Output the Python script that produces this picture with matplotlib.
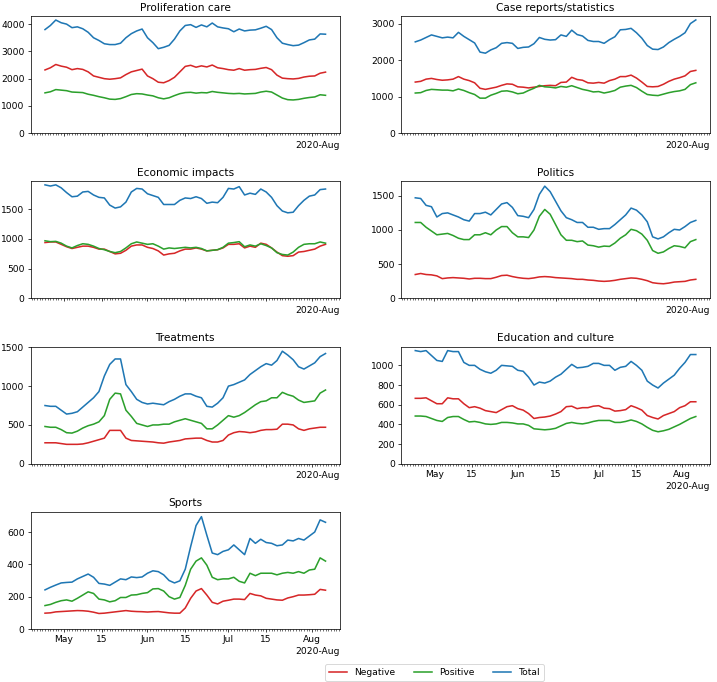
import matplotlib
matplotlib.use("Agg")
import matplotlib.pyplot as plt
import matplotlib.dates as mdates
import pandas as pd

# every second day, 2020-04-24 .. 2020-08-06
dates = pd.date_range("2020-04-24", "2020-08-06", freq="2D")

titles = ["Proliferation care", "Case reports/statistics", "Economic impacts",
          "Politics", "Treatments", "Education and culture", "Sports"]

prolif_neg = [2320, 2400, 2520, 2460, 2420, 2330, 2370, 2340, 2250, 2100, 2050, 2000, 1980, 2000,
              2030, 2150, 2250, 2300, 2350, 2100, 2000, 1870, 1850, 1930, 2050, 2250, 2450, 2490,
              2420, 2470, 2430, 2500, 2400, 2370, 2330, 2310, 2370, 2310, 2330, 2340, 2380, 2410,
              2330, 2130, 2020, 2000, 1990, 2010, 2060, 2090, 2100, 2200, 2240]
prolif_pos = [1480, 1520, 1600, 1580, 1560, 1510, 1500, 1490, 1430, 1390, 1340, 1300, 1250, 1240,
              1270, 1340, 1420, 1450, 1440, 1400, 1370, 1300, 1260, 1300, 1380, 1450, 1490, 1500,
              1470, 1490, 1480, 1530, 1500, 1480, 1460, 1450, 1460, 1440, 1450, 1460, 1510, 1540,
              1510, 1400, 1290, 1230, 1220, 1240, 1280, 1310, 1330, 1410, 1390]
prolif_tot = [3800, 3950, 4150, 4050, 4000, 3870, 3900, 3830, 3700, 3500, 3400, 3280, 3250, 3250,
              3300, 3500, 3650, 3750, 3820, 3500, 3320, 3100, 3150, 3220, 3450, 3750, 3950, 3980,
              3880, 3970, 3900, 4040, 3900, 3860, 3830, 3720, 3820, 3750, 3780, 3790, 3850, 3920,
              3800, 3500, 3300, 3250, 3210, 3230, 3320, 3420, 3450, 3640, 3630]

cases_neg = [1400, 1420, 1480, 1500, 1470, 1450, 1460, 1480, 1550, 1480, 1440, 1380, 1230, 1200,
             1230, 1260, 1310, 1350, 1340, 1270, 1260, 1240, 1260, 1280, 1300, 1310, 1300, 1390,
             1400, 1530, 1470, 1450, 1380, 1370, 1390, 1370, 1440, 1480, 1550, 1550, 1590, 1510,
             1400, 1280, 1270, 1280, 1340, 1420, 1480, 1520, 1570, 1690, 1720]
cases_pos = [1100, 1110, 1170, 1200, 1190, 1180, 1180, 1160, 1210, 1170, 1110, 1060, 960, 960,
             1040, 1090, 1150, 1160, 1130, 1080, 1100, 1170, 1230, 1310, 1270, 1260, 1240, 1280,
             1260, 1300, 1250, 1200, 1170, 1130, 1140, 1100, 1130, 1170, 1260, 1290, 1310, 1250,
             1150, 1060, 1040, 1030, 1070, 1110, 1140, 1160, 1200, 1330, 1380]
cases_tot = [2500, 2550, 2620, 2690, 2650, 2610, 2630, 2610, 2760, 2650, 2560, 2470, 2220, 2190,
             2280, 2340, 2460, 2480, 2460, 2320, 2350, 2360, 2450, 2620, 2570, 2550, 2560, 2690,
             2650, 2820, 2700, 2660, 2540, 2510, 2510, 2460, 2560, 2640, 2830, 2840, 2870, 2750,
             2600, 2400, 2300, 2290, 2360, 2480, 2570, 2650, 2750, 3000, 3100]

econ_neg = [940, 950, 950, 910, 870, 840, 860, 880, 880, 860, 830, 830, 790, 750, 760, 810, 880,
            900, 900, 860, 840, 800, 730, 750, 760, 800, 830, 830, 850, 830, 800, 810, 820, 850,
            910, 910, 920, 850, 880, 860, 930, 910, 850, 780, 720, 710, 720, 780, 790, 810, 830,
            880, 910]
econ_pos = [970, 955, 960, 930, 880, 850, 890, 920, 910, 880, 840, 820, 790, 770, 790, 850, 920,
            950, 930, 910, 920, 880, 830, 850, 840, 850, 860, 850, 860, 840, 800, 810, 820, 860,
            930, 940, 955, 870, 900, 880, 920, 890, 850, 770, 740, 730, 780, 860, 910, 920, 920,
            950, 930]
econ_tot = [1910, 1890, 1910, 1860, 1780, 1710, 1720, 1790, 1800, 1740, 1700, 1690, 1570, 1520,
            1540, 1620, 1790, 1850, 1840, 1760, 1730, 1700, 1580, 1580, 1580, 1650, 1690, 1680,
            1710, 1680, 1600, 1620, 1610, 1700, 1850, 1840, 1880, 1740, 1770, 1750, 1840, 1790,
            1700, 1560, 1470, 1440, 1450, 1560, 1650, 1720, 1740, 1830, 1840]

pol_neg = [350, 365, 350, 345, 330, 290, 300, 305, 300, 295, 285, 295, 295, 290, 290, 310, 335,
           340, 320, 305, 295, 290, 300, 315, 320, 315, 305, 300, 295, 290, 280, 280, 270, 265,
           255, 250, 255, 265, 280, 290, 300, 295, 280, 260, 230, 220, 215, 225, 240, 245, 250,
           270, 280]
pol_pos = [1110, 1110, 1040, 985, 930, 940, 950, 920, 880, 860, 860, 930, 930, 960, 930, 1000,
           1050, 1050, 960, 900, 900, 890, 1000, 1200, 1300, 1230, 1080, 930, 850, 850, 830, 840,
           780, 770, 750, 765, 760, 810, 880, 930, 1010, 990, 940, 850, 700, 660, 680, 730, 770,
           760, 740, 830, 860]
pol_tot = [1470, 1460, 1360, 1340, 1190, 1240, 1250, 1220, 1190, 1150, 1130, 1240, 1240, 1260,
           1220, 1300, 1380, 1400, 1330, 1210, 1200, 1180, 1300, 1520, 1640, 1560, 1420, 1280,
           1180, 1150, 1110, 1110, 1040, 1040, 1010, 1020, 1020, 1080, 1150, 1220, 1320, 1290,
           1220, 1120, 900, 870, 900, 960, 1010, 1000, 1050, 1110, 1140]

treat_neg = [270, 270, 270, 260, 250, 250, 250, 255, 270, 290, 310, 330, 430, 430, 430, 330, 300,
             295, 290, 285, 280, 270, 265, 280, 290, 300, 320, 325, 330, 330, 300, 280, 280, 300,
             370, 400, 415, 410, 400, 410, 430, 440, 440, 445, 510, 510, 500, 450, 430, 450, 460,
             470, 470]
treat_pos = [480, 470, 470, 440, 400, 395, 420, 460, 490, 510, 540, 620, 830, 910, 900, 690, 610,
             520, 500, 480, 500, 500, 510, 510, 540, 560, 580, 560, 540, 520, 450, 450, 500, 560,
             620, 600, 620, 660, 710, 760, 800, 810, 850, 850, 920, 890, 870, 820, 790, 800, 810,
             910, 950]
treat_tot = [750, 740, 740, 690, 640, 650, 670, 730, 790, 850, 930, 1130, 1280, 1350, 1350, 1020,
             930, 830, 790, 770, 780, 770, 760, 800, 830, 870, 900, 900, 870, 850, 740, 730, 780,
             850, 1000, 1020, 1050, 1080, 1150, 1200, 1250, 1290, 1270, 1330, 1450, 1400, 1340,
             1250, 1220, 1260, 1300, 1380, 1420]

edu_neg = [665, 665, 670, 640, 610, 610, 670, 660, 660, 610, 570, 580, 565, 540, 530, 520, 550,
           580, 590, 560, 545, 510, 460, 470, 475, 485, 505, 530, 580, 585, 560, 570, 570, 585,
           590, 565, 560, 535, 540, 550, 590, 570, 545, 490, 470, 455, 490, 510, 530, 570, 590,
           630, 630]
edu_pos = [485, 485, 480, 460, 440, 430, 470, 480, 480, 450, 425, 430, 420, 405, 400, 405, 420,
           420, 415, 405, 405, 390, 355, 350, 345, 350, 360, 385, 410, 420, 410, 405, 415, 430,
           440, 440, 440, 420, 420, 430, 445, 430, 405, 370, 340, 325, 335, 350, 375, 400, 430,
           460, 480]
edu_tot = [1150, 1140, 1150, 1100, 1050, 1040, 1150, 1140, 1140, 1030, 1000, 1000, 960, 935, 920,
           950, 1000, 995, 990, 950, 940, 880, 800, 830, 820, 840, 880, 910, 960, 1010, 975, 980,
           990, 1020, 1020, 1000, 1000, 950, 980, 990, 1040, 1000, 950, 840, 800, 770, 820, 860,
           900, 970, 1030, 1110, 1110]

sport_neg = [98, 100, 106, 108, 110, 112, 114, 113, 110, 104, 96, 98, 102, 106, 110, 114, 110,
             108, 107, 105, 107, 108, 104, 100, 98, 98, 130, 190, 235, 250, 210, 165, 155, 172,
             178, 185, 185, 182, 220, 210, 205, 190, 185, 180, 178, 192, 200, 210, 210, 212, 215,
             245, 240]
sport_pos = [145, 152, 165, 175, 180, 172, 190, 210, 230, 220, 185, 180, 168, 175, 195, 195, 210,
             212, 220, 225, 248, 250, 235, 200, 185, 195, 270, 370, 420, 440, 395, 320, 305, 310,
             310, 320, 295, 285, 345, 330, 345, 345, 345, 335, 345, 350, 345, 355, 345, 365, 370,
             440, 420]
sport_tot = [242, 258, 272, 285, 288, 290, 310, 325, 340, 320, 282, 278, 270, 290, 310, 305, 322,
             318, 322, 345, 360, 355, 335, 300, 285, 298, 370, 510, 640, 695, 580, 470, 460, 480,
             490, 520, 490, 460, 560, 530, 555, 535, 530, 515, 520, 550, 545, 560, 550, 575, 600,
             675, 660]

panels = [
    (prolif_neg, prolif_pos, prolif_tot),
    (cases_neg, cases_pos, cases_tot),
    (econ_neg, econ_pos, econ_tot),
    (pol_neg, pol_pos, pol_tot),
    (treat_neg, treat_pos, treat_tot),
    (edu_neg, edu_pos, edu_tot),
    (sport_neg, sport_pos, sport_tot),
]

dpi = 66
fig, axes = plt.subplots(4, 2, figsize=(717 / dpi, 682 / dpi), dpi=dpi)
fig.subplots_adjust(left=0.0432, right=0.990, top=0.9765, bottom=0.0777,
                    wspace=0.2, hspace=0.41)
axs = axes.flatten()

for i, (neg, pos, tot) in enumerate(panels):
    ax = axs[i]
    ax.plot(dates, neg, color="tab:red", lw=1.7, label="Negative")
    ax.plot(dates, pos, color="tab:green", lw=1.7, label="Positive")
    ax.plot(dates, tot, color="tab:blue", lw=1.7, label="Total")
    ax.set_ylim(bottom=0)
    ax.set_title(titles[i], fontsize=11.5)
    loc = mdates.DayLocator(bymonthday=[1, 15])
    ax.xaxis.set_major_locator(loc)
    ax.xaxis.set_major_formatter(mdates.ConciseDateFormatter(loc))
    ax.xaxis.set_minor_locator(mdates.DayLocator())
    if i not in (5, 6):
        ax.tick_params(axis="x", labelbottom=False)
        ax.xaxis.get_offset_text().set_visible(True)

axs[7].set_visible(False)

handles, labels = axs[0].get_legend_handles_labels()
fig.legend(handles, labels, loc="lower center", ncol=3,
           bbox_to_anchor=(0.606, -0.005))

fig.savefig("out.png", dpi=dpi)
